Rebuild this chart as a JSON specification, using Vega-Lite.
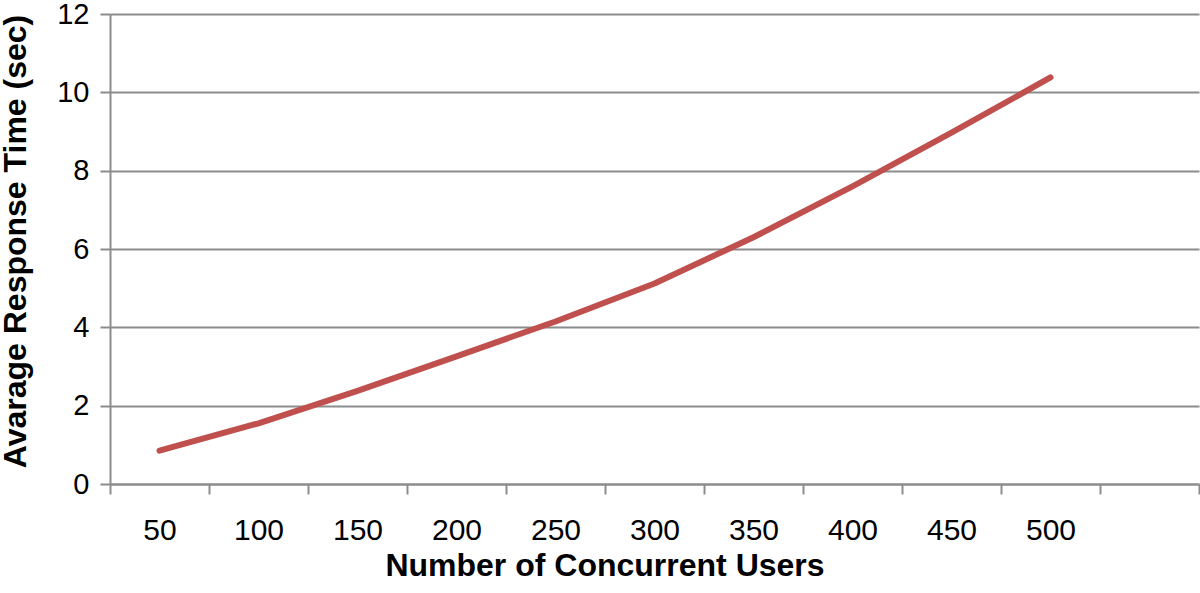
{
  "$schema": "https://vega.github.io/schema/vega-lite/v6.json",
  "width": 1089,
  "height": 470,
  "autosize": "none",
  "padding": {"left": 110, "top": 14, "right": 1, "bottom": 109},
  "background": "white",
  "config": {
    "view": {"stroke": null},
    "font": "Liberation Sans",
    "axis": {
      "labelFont": "Liberation Sans",
      "titleFont": "Liberation Sans",
      "labelColor": "black",
      "titleColor": "black",
      "domainColor": "#8c8c8c",
      "domainWidth": 2,
      "tickColor": "#8c8c8c",
      "tickWidth": 2,
      "tickSize": 10,
      "gridColor": "#8c8c8c",
      "gridWidth": 2
    }
  },
  "data": {
    "values": [
      {"users": 50, "time": 0.85},
      {"users": 100, "time": 1.55},
      {"users": 150, "time": 2.38},
      {"users": 200, "time": 3.26},
      {"users": 250, "time": 4.15},
      {"users": 300, "time": 5.12},
      {"users": 350, "time": 6.3},
      {"users": 400, "time": 7.6},
      {"users": 450, "time": 8.97},
      {"users": 500, "time": 10.38}
    ]
  },
  "mark": {"type": "line", "color": "#C0504D", "strokeWidth": 6, "strokeCap": "round", "strokeJoin": "round"},
  "encoding": {
    "x": {
      "field": "users",
      "type": "quantitative",
      "scale": {"domain": [25, 575], "nice": false, "zero": false},
      "axis": {
        "title": "Number of Concurrent Users",
        "values": [25, 75, 125, 175, 225, 275, 325, 375, 425, 475, 525, 575],
        "labelExpr": "datum.value < 520 ? format(datum.value + 25, 'd') : ''",
        "labelOffset": 49.5,
        "labelFlush": false,
        "labelOverlap": false,
        "labelBound": false,
        "labelFontSize": 30,
        "labelPadding": 21,
        "grid": false,
        "titleFontSize": 32,
        "titleFontWeight": "bold",
        "titleX": 494.5,
        "titleY": 91,
        "titleBaseline": "alphabetic",
        "titleAnchor": null
      }
    },
    "y": {
      "field": "time",
      "type": "quantitative",
      "scale": {"domain": [0, 12], "nice": false},
      "axis": {
        "title": "Avarage Response Time (sec)",
        "values": [0, 2, 4, 6, 8, 10, 12],
        "labelFontSize": 29,
        "labelPadding": 11,
        "grid": true,
        "titleFontSize": 32,
        "titleFontWeight": "bold",
        "titleX": -85,
        "titleY": 227,
        "titleAngle": -90,
        "titleBaseline": "alphabetic",
        "titleAlign": "center"
      }
    }
  }
}
